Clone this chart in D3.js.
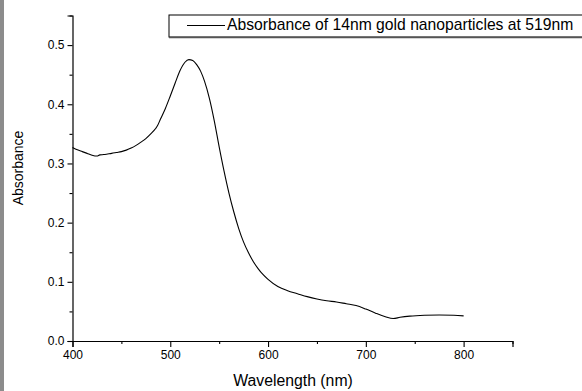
<!DOCTYPE html>
<html>
<head>
<meta charset="utf-8">
<script src="https://cdn.jsdelivr.net/npm/d3@7"></script>
<style>
  html, body { margin: 0; padding: 0; background: #fff; }
  svg { display: block; }
  text { font-family: "Liberation Sans", Arial, sans-serif; fill: #000; }
</style>
</head>
<body>
<script>
// UV-Vis absorbance spectrum of 14 nm gold nanoparticles
const wavelength = [400,405,410,415,420,425,428,432,436,440,445,450,455,460,465,470,475,480,485,487,490,495,500,505,510,515,519,523,527,531,535,540,545,550,555,560,565,570,575,580,585,590,595,600,610,620,630,640,650,660,670,680,690,700,710,720,728,735,745,760,775,790,800];
const absorbance = [0.327,0.323,0.320,0.317,0.314,0.3125,0.3145,0.315,0.316,0.317,0.3185,0.320,0.3225,0.326,0.3305,0.336,0.342,0.350,0.359,0.364,0.375,0.393,0.414,0.436,0.457,0.471,0.4755,0.474,0.467,0.456,0.439,0.410,0.372,0.328,0.287,0.250,0.218,0.190,0.167,0.149,0.134,0.122,0.112,0.104,0.092,0.085,0.080,0.075,0.071,0.068,0.066,0.063,0.060,0.054,0.047,0.041,0.038,0.040,0.042,0.0435,0.044,0.0435,0.0425];

const xTicks = [400, 500, 600, 700, 800];
const xMinorTicks = [450, 550, 650, 750, 850];
const yTicks = [0.0, 0.1, 0.2, 0.3, 0.4, 0.5];
const yMinorTicks = [0.05, 0.15, 0.25, 0.35, 0.45, 0.55];
const legendLabel = "Absorbance of 14nm gold nanoparticles at 519nm";

const W = 582, H = 391;
const svg = d3.select("body").append("svg").attr("width", W).attr("height", H);

// grey strip along the left edge
svg.append("rect").attr("x", 0).attr("y", 0).attr("width", 4).attr("height", H).attr("fill", "#8c8c8c");

const x = d3.scaleLinear().domain([400, 850]).range([72.5, 512.5]);
const y = d3.scaleLinear().domain([0, 0.55]).range([341, 15.5]);

// x axis
const gx = svg.append("g").attr("transform", `translate(0,${y(0)})`);
gx.call(d3.axisBottom(x).tickValues(xTicks).tickSize(6).tickPadding(3).tickFormat(d3.format("d")));
gx.append("g").call(d3.axisBottom(x).tickValues(xMinorTicks).tickSize(3).tickFormat(""))
  .select(".domain").remove();

// y axis
const gy = svg.append("g").attr("transform", `translate(${x(400)},0)`);
gy.call(d3.axisLeft(y).tickValues(yTicks).tickSize(5).tickPadding(3).tickFormat(d3.format(".1f")));
gy.append("g").call(d3.axisLeft(y).tickValues(yMinorTicks).tickSize(3).tickFormat(""))
  .select(".domain").remove();

svg.selectAll(".domain").attr("stroke", "#000").attr("stroke-width", 1.2);
svg.selectAll(".tick line").attr("stroke", "#000").attr("stroke-width", 1.1);
svg.selectAll(".tick text").attr("font-size", 12).attr("font-family", "Liberation Sans, Arial, sans-serif");

// axis titles
svg.append("text").attr("x", 293).attr("y", 386).attr("text-anchor", "middle")
  .attr("font-size", 15.8).text("Wavelength (nm)");
svg.append("text").attr("transform", `translate(23,${168}) rotate(-90)`).attr("text-anchor", "middle")
  .attr("font-size", 14).text("Absorbance");

// spectrum
const line = d3.line().x((d, i) => x(wavelength[i])).y(d => y(d)).curve(d3.curveMonotoneX);
svg.append("path").datum(absorbance).attr("d", line)
  .attr("fill", "none").attr("stroke", "#000").attr("stroke-width", 1.1);

// legend
const lg = svg.append("g");
lg.append("rect").attr("x", 169).attr("y", 15).attr("width", 430).attr("height", 22)
  .attr("fill", "#fff").attr("stroke", "#000").attr("stroke-width", 1);
lg.append("line").attr("x1", 169).attr("x2", 600).attr("y1", 37.5).attr("y2", 37.5)
  .attr("stroke", "#555").attr("stroke-width", 1.5);
lg.append("line").attr("x1", 187).attr("x2", 225).attr("y1", 25.5).attr("y2", 25.5)
  .attr("stroke", "#000").attr("stroke-width", 1);
lg.append("text").attr("x", 227).attr("y", 30).attr("font-size", 15.7).text(legendLabel);
</script>
</body>
</html>
